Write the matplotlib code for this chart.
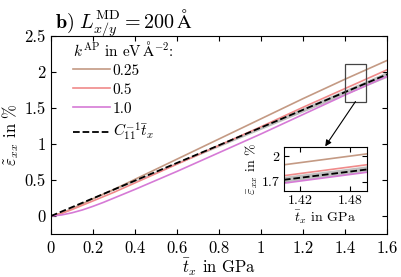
import numpy as np
import matplotlib
matplotlib.use("Agg")
import matplotlib.pyplot as plt

plt.rcParams['font.family'] = 'serif'
plt.rcParams['font.serif'] = ['cmr10', 'DejaVu Serif']
plt.rcParams['mathtext.fontset'] = 'cm'
plt.rcParams['axes.formatter.use_mathtext'] = True
plt.rcParams['font.size'] = 12

# applied traction in GPa
t_x = [0.0, 0.05, 0.1, 0.15, 0.2, 0.25, 0.3, 0.4, 0.6, 0.8, 1.0, 1.2, 1.4, 1.5, 1.6]

# strain in % for the different k^AP values
eps_025 = [0.0, 0.04, 0.10, 0.17, 0.24, 0.305, 0.37, 0.51, 0.79, 1.07, 1.35, 1.63, 1.90, 2.03, 2.16]
eps_05 = [0.0, 0.035, 0.09, 0.15, 0.21, 0.27, 0.33, 0.46, 0.72, 0.98, 1.24, 1.51, 1.77, 1.90, 2.03]
eps_10 = [0.0, 0.015, 0.045, 0.085, 0.135, 0.19, 0.25, 0.37, 0.62, 0.88, 1.14, 1.41, 1.68, 1.81, 1.94]

# linear elastic reference C11^-1 * t_x (in % per GPa) and its uncertainty
c11_inv = 1.229
c11_inv_err = 0.025

labels = ['0.25', '0.5', '1.0']
colors = ['#c49a84', '#f08a8a', '#d67ad6']

fig = plt.figure(figsize=(4.01, 2.77), dpi=100)
ax = fig.add_axes([0.127, 0.155, 0.838, 0.715])
ax_in = fig.add_axes([0.708, 0.3115, 0.206, 0.157])

t_lin = np.array([0.0, 1.6])

for a in (ax, ax_in):
    a.fill_between(t_lin, (c11_inv - c11_inv_err) * t_lin, (c11_inv + c11_inv_err) * t_lin,
                   color='#b0b0b0', lw=0, alpha=0.8)
    for eps, lab, col in zip([eps_025, eps_05, eps_10], labels, colors):
        a.plot(t_x, eps, color=col, lw=1.2, label=lab)
    a.plot(t_lin, c11_inv * t_lin, 'k--', lw=1.3, label=r'$C_{11}^{-1}\bar{t}_x$')
    a.tick_params(direction='in', top=True, right=True)

ax.set_xlim(0, 1.6)
ax.set_ylim(-0.25, 2.5)
ax.set_xticks(np.arange(0, 1.61, 0.2))
ax.set_yticks(np.arange(0, 2.51, 0.5))
ax.set_xticklabels(['0', '0.2', '0.4', '0.6', '0.8', '1', '1.2', '1.4', '1.6'])
ax.set_yticklabels(['0', '0.5', '1', '1.5', '2', '2.5'])
ax.tick_params(axis='x', pad=5)
ax.tick_params(axis='y', pad=4)
ax.set_xlabel(r'$\bar{t}_x$ in GPa', labelpad=0)
ax.set_ylabel(r'$\tilde{\varepsilon}_{xx}$ in %', labelpad=2)
ax.set_title(r'$\mathbf{b)}\ L^{\mathrm{MD}}_{x/y} = 200\,\mathrm{\AA}$', pad=6,
             fontsize=14.5, loc='left', x=0.012)

leg = ax.legend(loc='upper left', bbox_to_anchor=(0.032, 1.04), frameon=False, handlelength=2.4,
                title=r'$k^{\mathrm{AP}}$ in eV$\,\mathrm{\AA}^{-2}$:',
                fontsize=11, title_fontsize=11,
                borderaxespad=0.35, labelspacing=0.35, handletextpad=0.2)
leg._legend_box.align = 'left'

x0, x1, y0, y1 = 1.40, 1.50, 1.59, 2.11
ax_in.set_xlim(x0, x1)
ax_in.set_ylim(y0, y1)
ax_in.set_xticks([1.42, 1.48])
ax_in.set_yticks([1.7, 2.0])
ax_in.set_xticklabels(['1.42', '1.48'])
ax_in.set_yticklabels(['1.7', '2'])
ax_in.tick_params(labelsize=10, pad=3)
ax_in.set_xlabel(r'$\bar{t}_x$ in GPa', fontsize=10, labelpad=1)
ax_in.set_ylabel(r'$\bar{\varepsilon}_{xx}$ in %', fontsize=10, labelpad=1)

ax.add_patch(plt.Rectangle((x0, y0), x1 - x0, y1 - y0, fill=False, ec='#444444', lw=0.9, zorder=5))
ax_in.annotate('', xy=(0.5, 1.02), xycoords='axes fraction',
               xytext=(0.5 * (x0 + x1), y0), textcoords=ax.transData,
               arrowprops=dict(arrowstyle='-|>', color='black', lw=0.8, mutation_scale=9,
                               shrinkA=0, shrinkB=0))

fig.savefig('out.png', dpi=100)
